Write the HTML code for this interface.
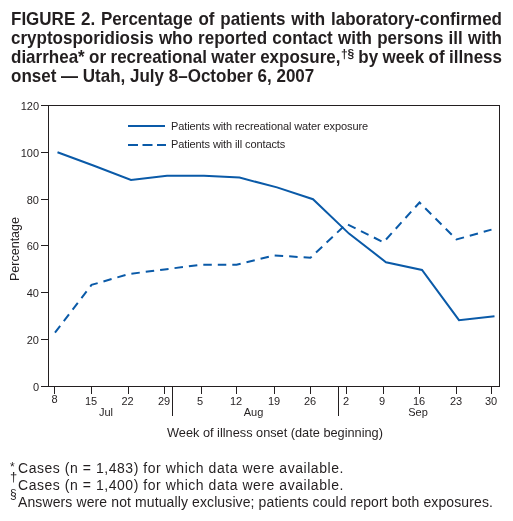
<!DOCTYPE html>
<html><head><meta charset="utf-8">
<style>
html,body{margin:0;padding:0;background:#fff;}
body{width:513px;height:521px;position:relative;overflow:hidden;-webkit-font-smoothing:antialiased;font-family:"Liberation Sans",sans-serif;color:#231f20;}
.t{position:absolute;left:10.8px;width:491px;transform:scaleY(1.07);transform-origin:0 15.4px;font-weight:700;font-size:17px;line-height:19px;white-space:nowrap;text-align:justify;text-align-last:justify;color:#231f20;}
.t sup{font-size:12px;line-height:0;vertical-align:0;position:relative;top:-5.2px;letter-spacing:-0.3px;margin-left:0.5px;}
svg{position:absolute;left:0;top:0;}
.t,.fn,.sym,svg{will-change:transform;}
.fn{position:absolute;left:18px;font-size:14px;white-space:nowrap;line-height:17px;transform:scaleY(1.05);transform-origin:0 13.12px;}
.sym{position:absolute;font-size:12px;line-height:12px;}
</style></head><body>
<div class="t" style="top:9.6px">FIGURE 2. Percentage of patients with laboratory-confirmed</div>
<div class="t" style="top:28.6px">cryptosporidiosis who reported contact with persons ill with</div>
<div class="t" style="top:47.6px;word-spacing:-0.4px">diarrhea* or recreational water exposure,<sup>†§</sup> by week of illness</div>
<div class="t" style="top:66.6px;text-align-last:left">onset — Utah, July 8–October 6, 2007</div>

<svg width="513" height="521" viewBox="0 0 513 521" font-family="Liberation Sans" fill="#231f20">
<g stroke="#231f20" stroke-width="1" fill="none" shape-rendering="crispEdges">
<path d="M48.5 105.5H499.5V386.5H48.5Z"/>
<path d="M41 105.5H48.5M41 152.5H48.5M41 199.5H48.5M41 245.5H48.5M41 292.5H48.5M41 339.5H48.5M41 386.5H48.5"/>
<path d="M54.5 386.5V394M91.5 386.5V394M128.5 386.5V394M164.5 386.5V394M201.5 386.5V394M236.5 386.5V394M274.5 386.5V394M310.5 386.5V394M346.5 386.5V394M383.5 386.5V394M419.5 386.5V394M456.5 386.5V394M491.5 386.5V394"/>
<path d="M172.5 386.5V416M338.5 386.5V416"/>
</g>
<g font-size="11" text-anchor="end">
<text x="39" y="109.5">120</text>
<text x="39" y="156.5">100</text>
<text x="39" y="203.5">80</text>
<text x="39" y="249.5">60</text>
<text x="39" y="296.5">40</text>
<text x="39" y="343.5">20</text>
<text x="39" y="390.5">0</text>
</g>
<g font-size="11" text-anchor="middle">
<text x="54.5" y="403">8</text>
<text x="91" y="405">15</text>
<text x="127.5" y="405">22</text>
<text x="164" y="405">29</text>
<text x="200" y="405">5</text>
<text x="236" y="405">12</text>
<text x="274" y="405">19</text>
<text x="310" y="405">26</text>
<text x="346" y="405">2</text>
<text x="382" y="405">9</text>
<text x="419" y="405">16</text>
<text x="456" y="405">23</text>
<text x="491" y="405">30</text>
<text x="106" y="416">Jul</text>
<text x="253.5" y="416">Aug</text>
<text x="418" y="416">Sep</text>
</g>
<text x="167" y="437" font-size="12.75">Week of illness onset (date beginning)</text>
<text transform="translate(18.7 249) rotate(-90)" font-size="12.5" text-anchor="middle">Percentage</text>
<g font-size="11" letter-spacing="-0.1">
<text x="171" y="130">Patients with recreational water exposure</text>
<text x="171" y="148">Patients with ill contacts</text>
</g>
<g stroke="#0a5aa8" stroke-width="2" fill="none" stroke-linejoin="miter">
<path d="M128 126H165"/>
<path d="M128 145H166" stroke-dasharray="10 4.5"/>
<path id="solid" d="M57.5 152.3L94 165.8L131 179.9L167 175.7L204 175.7L239.5 177.6L277 187.4L313 199.2L349 233.6L386 262.2L422 269.9L459 320.2L494.5 316.2"/>
<path id="dash" stroke-dasharray="8.5 6" d="M55 332.6L91.5 284.9L128.5 274.1L164.5 269.4L201.5 264.7L236.5 264.7L274.5 255.4L310.5 257.7L346.5 223.8L383.5 242.3L419.5 202.5L456.5 239.5L491.5 229.6"/>
</g>
</svg>

<div class="sym" style="left:10px;top:461px;font-size:12px">*</div>
<div class="fn" style="top:459.9px;letter-spacing:0.54px">Cases (n = 1,483) for which data were available.</div>
<div class="sym" style="left:10px;top:471px;font-size:13px">†</div>
<div class="fn" style="top:476.9px;letter-spacing:0.54px">Cases (n = 1,400) for which data were available.</div>
<div class="sym" style="left:10px;top:488px;font-size:12px">§</div>
<div class="fn" style="top:493.8px;letter-spacing:0.11px">Answers were not mutually exclusive; patients could report both exposures.</div>
</body></html>
